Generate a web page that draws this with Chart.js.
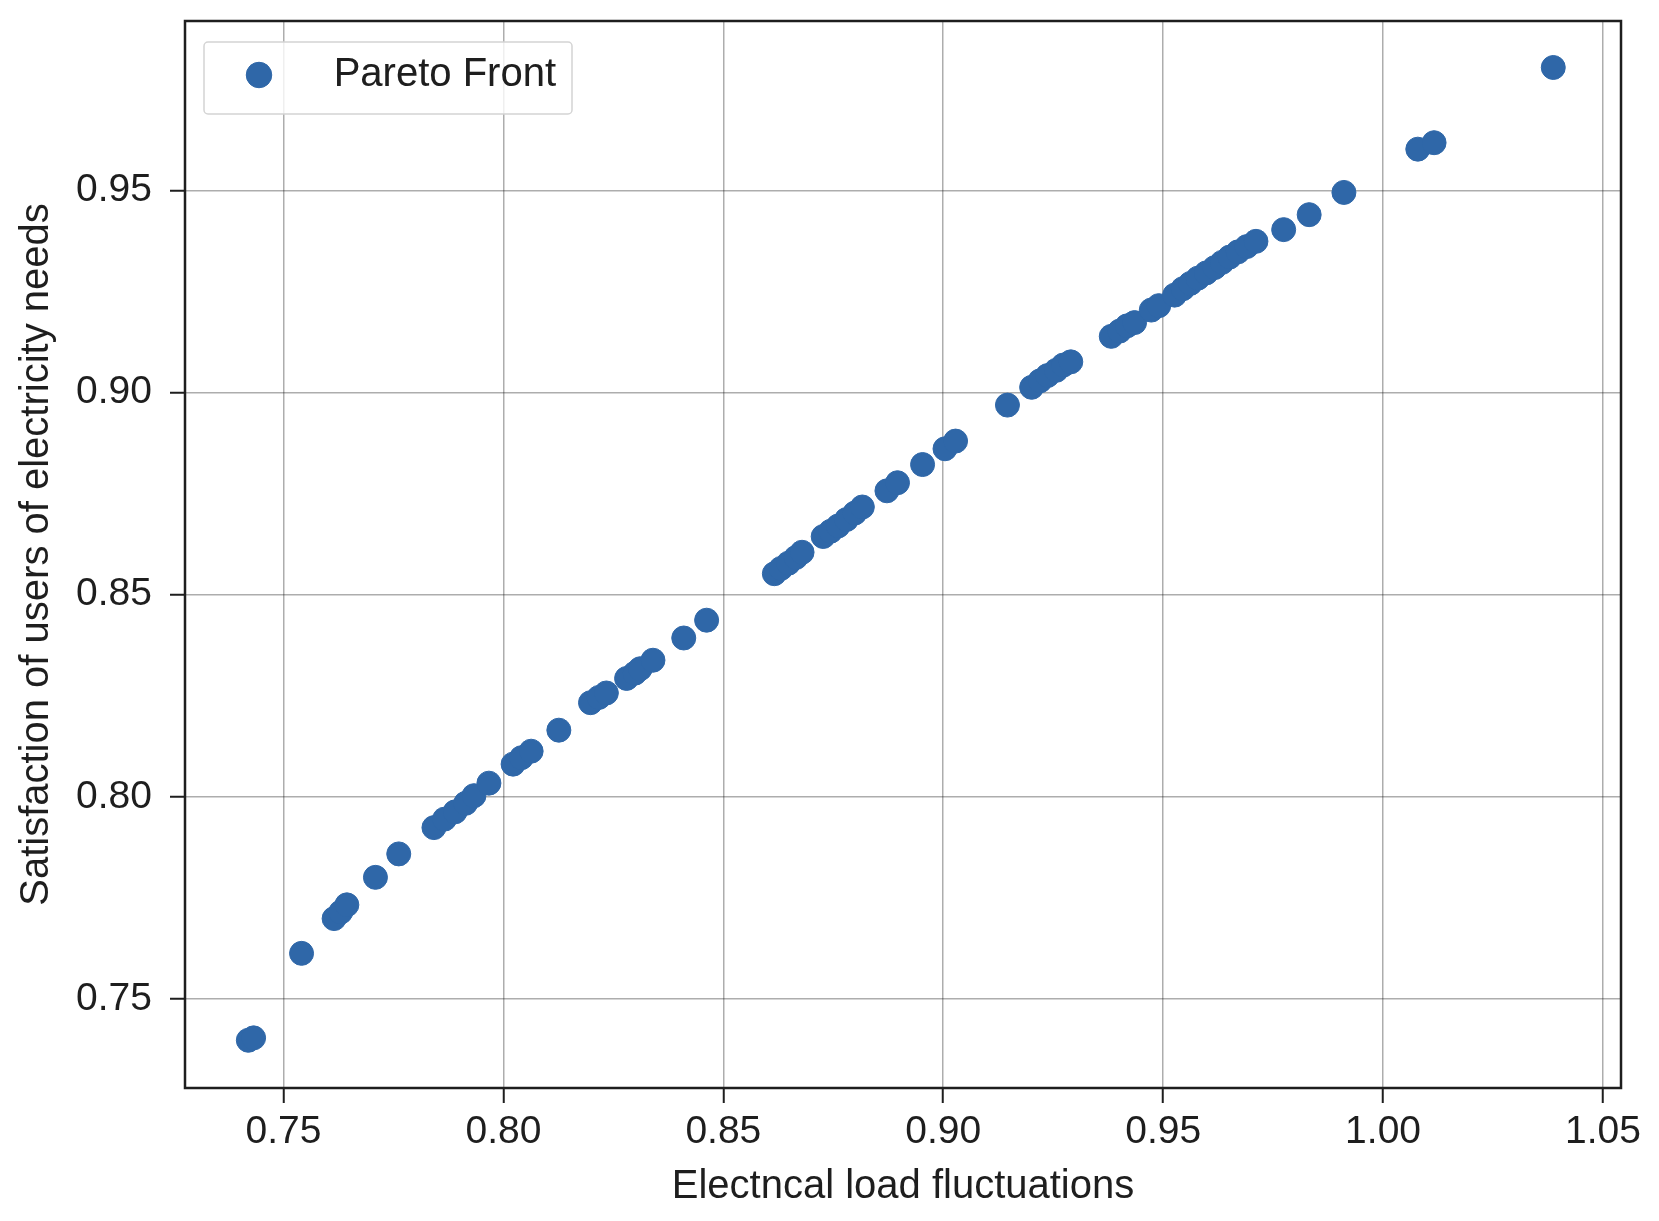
<!DOCTYPE html>
<html>
<head>
<meta charset="utf-8">
<title>Pareto Front</title>
<script src="https://cdn.jsdelivr.net/npm/chart.js@4.4.1/dist/chart.umd.min.js"></script>
<style>
    html, body { margin: 0; padding: 0; background: #ffffff; }
    #chart { display: block; }
</style>
</head>
<body>
<canvas id="chart" width="1659" height="1221"></canvas>
<script>
// values
const paretoX = [
    0.7420, 0.7432, 0.7541, 0.7615, 0.7630, 0.7644, 0.7709, 0.7762,
    0.7842, 0.7866, 0.7890, 0.7914, 0.7933, 0.7967, 0.8022, 0.8041,
    0.8063, 0.8126, 0.8198, 0.8217, 0.8234, 0.8280, 0.8299, 0.8311,
    0.8340, 0.8410, 0.8462, 0.8616, 0.8631, 0.8648, 0.8665, 0.8679,
    0.8727, 0.8744, 0.8761, 0.8780, 0.8799, 0.8816, 0.8872, 0.8896,
    0.8953, 0.9004, 0.9028, 0.9146, 0.9201, 0.9220, 0.9237, 0.9257,
    0.9273, 0.9290, 0.9382, 0.9401, 0.9418, 0.9435, 0.9473, 0.9490,
    0.9526, 0.9545, 0.9562, 0.9579, 0.9598, 0.9617, 0.9634, 0.9651,
    0.9670, 0.9690, 0.9711, 0.9774, 0.9832, 0.9911, 1.0079, 1.0116,
    1.0387
];
const paretoY = [
    0.7398, 0.7404, 0.7613, 0.7699, 0.7715, 0.7733, 0.7801, 0.7859,
    0.7924, 0.7945, 0.7963, 0.7984, 0.8003, 0.8034, 0.8081, 0.8097,
    0.8113, 0.8165, 0.8233, 0.8246, 0.8257, 0.8293, 0.8306, 0.8317,
    0.8338, 0.8393, 0.8437, 0.8552, 0.8565, 0.8578, 0.8592, 0.8605,
    0.8644, 0.8657, 0.8670, 0.8686, 0.8702, 0.8717, 0.8757, 0.8777,
    0.8822, 0.8861, 0.8880, 0.8969, 0.9013, 0.9029, 0.9042, 0.9055,
    0.9068, 0.9076, 0.9139, 0.9152, 0.9165, 0.9173, 0.9204, 0.9215,
    0.9241, 0.9257, 0.9270, 0.9283, 0.9296, 0.9309, 0.9322, 0.9335,
    0.9348, 0.9361, 0.9374, 0.9403, 0.9440, 0.9495, 0.9602, 0.9618,
    0.9804
];

const xTicks = [0.75, 0.80, 0.85, 0.90, 0.95, 1.00, 1.05];
const yTicks = [0.75, 0.80, 0.85, 0.90, 0.95];

const seriesLabel = 'Pareto Front';
const xTitle = 'Electncal load fluctuations';
const yTitle = 'Satisfaction of users of electricity needs';

const FONT = "'Liberation Sans', Arial, sans-serif";
const INK = '#1e1e1e';
const BLUE = '#2f67a8';
const GRID = 'rgba(0,0,0,0.32)';

const points = paretoX.map((x, i) => ({ x: x, y: paretoY[i] }));

// frame round the plot + legend box
const framePlugin = {
    id: 'frame',
    afterLayout(chart) {
        // legend sits inside the plot, top left; text is right aligned to lg.right
        const lg = chart.legend, ca = chart.chartArea;
        const h = lg.height;
        lg.left = ca.left + 20;
        lg.right = ca.left + 371;
        lg.width = lg.right - lg.left;
        lg.top = ca.top;
        lg.bottom = lg.top + h;
    },
    afterDraw(chart) {
        const { ctx, chartArea } = chart;
        ctx.save();

        // legend frame
        const lx = chartArea.left + 19, ly = chartArea.top + 21;
        ctx.beginPath();
        ctx.roundRect(lx, ly, 368, 72, 4);
        ctx.fillStyle = 'rgba(255,255,255,0.8)';
        ctx.fill();
        ctx.lineWidth = 1.5;
        ctx.strokeStyle = '#d4d4d4';
        ctx.stroke();
        ctx.restore();
        chart.legend.draw();

        ctx.save();
        ctx.lineWidth = 2.5;
        ctx.strokeStyle = INK;
        ctx.strokeRect(chartArea.left, chartArea.top,
            chartArea.right - chartArea.left, chartArea.bottom - chartArea.top);
        ctx.restore();
    }
};

new Chart(document.getElementById('chart'), {
    type: 'scatter',
    data: {
        datasets: [{
            label: seriesLabel,
            data: points,
            backgroundColor: BLUE,
            borderColor: BLUE,
            borderWidth: 1,
            pointRadius: 12,
            pointStyle: 'circle'
        }]
    },
    options: {
        responsive: false,
        animation: false,
        devicePixelRatio: 1,
        layout: {
            padding: { top: 21, right: 38, left: 0, bottom: 0 }
        },
        plugins: {
            tooltip: { enabled: false },
            legend: {
                position: 'chartArea',
                align: 'start',
                labels: {
                    usePointStyle: true,
                    pointStyle: 'circle',
                    boxWidth: 40,
                    boxHeight: 18,
                    padding: 34,
                    textAlign: 'right',
                    color: INK,
                    font: { family: FONT, size: 40 }
                }
            }
        },
        scales: {
            x: {
                type: 'linear',
                min: 0.7276,
                max: 1.0541,
                afterBuildTicks: s => { s.ticks = xTicks.map(v => ({ value: v })); },
                afterFit: s => { s.height = 133; s.paddingLeft = 0; s.paddingRight = 0; },
                ticks: {
                    includeBounds: false,
                    padding: 6,
                    color: INK,
                    font: { family: FONT, size: 39 },
                    callback: v => Number(v).toFixed(2)
                },
                grid: {
                    color: GRID,
                    lineWidth: 1.5,
                    drawTicks: true,
                    tickLength: 15,
                    tickColor: INK,
                    tickWidth: 2
                },
                border: { display: false },
                title: {
                    display: true,
                    text: xTitle,
                    color: INK,
                    font: { family: FONT, size: 40, lineHeight: 1.2 },
                    padding: { top: 0, bottom: 10 }
                }
            },
            y: {
                type: 'linear',
                min: 0.728,
                max: 0.9919,
                afterBuildTicks: s => { s.ticks = yTicks.map(v => ({ value: v })); },
                afterFit: s => { s.width = 185; s.paddingTop = 0; s.paddingBottom = 0; },
                ticks: {
                    includeBounds: false,
                    padding: 18,
                    color: INK,
                    font: { family: FONT, size: 39 },
                    callback: v => Number(v).toFixed(2)
                },
                grid: {
                    color: GRID,
                    lineWidth: 1.5,
                    drawTicks: true,
                    tickLength: 15,
                    tickColor: INK,
                    tickWidth: 2
                },
                border: { display: false },
                title: {
                    display: true,
                    text: yTitle,
                    color: INK,
                    font: { family: FONT, size: 40, lineHeight: 1.2 },
                    padding: { top: 13, bottom: 0 }
                }
            }
        }
    },
    plugins: [framePlugin]
});
</script>
</body>
</html>
